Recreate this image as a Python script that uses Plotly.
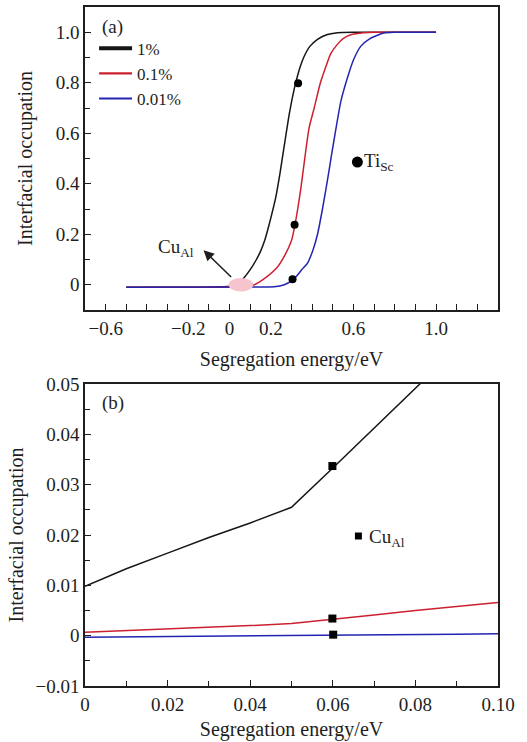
import plotly.graph_objects as go

# ---------------- Panel (a) data ----------------
black_a_x = [-0.5, -0.2, 0.0, 0.04, 0.07, 0.10, 0.13, 0.151, 0.17, 0.184, 0.20, 0.224, 0.245, 0.264,
             0.29, 0.313, 0.33, 0.345, 0.361, 0.39, 0.426, 0.47, 0.522, 0.60, 1.0]
black_a_y = [-0.01, -0.01, -0.006, 0.005, 0.028, 0.06, 0.10, 0.134, 0.175, 0.215, 0.265, 0.347, 0.445, 0.546,
             0.68, 0.775, 0.83, 0.87, 0.904, 0.945, 0.972, 0.99, 0.998, 1.0, 1.0]

red_a_x = [-0.5, 0.0, 0.08, 0.12, 0.17, 0.23, 0.27, 0.30, 0.315, 0.33, 0.345, 0.361, 0.385, 0.41,
           0.44, 0.465, 0.49, 0.52, 0.55, 0.587, 0.65, 0.70, 1.0]
red_a_y = [-0.01, -0.009, -0.006, 0.0, 0.025, 0.068, 0.12, 0.175, 0.23, 0.30, 0.38, 0.48, 0.62, 0.70,
           0.80, 0.86, 0.915, 0.95, 0.975, 0.99, 0.998, 1.0, 1.0]

blue_a_x = [-0.5, 0.10, 0.216, 0.265, 0.30, 0.325, 0.35, 0.377, 0.405, 0.426, 0.45, 0.474, 0.495,
            0.514, 0.54, 0.571, 0.60, 0.635, 0.68, 0.748, 0.80, 1.0]
blue_a_y = [-0.01, -0.009, -0.008, 0.0, 0.015, 0.035, 0.06, 0.085, 0.14, 0.20, 0.30, 0.413, 0.52,
            0.612, 0.73, 0.82, 0.89, 0.944, 0.975, 0.997, 1.0, 1.0]

ti_x = [0.332, 0.315, 0.305]
ti_y = [0.798, 0.238, 0.022]
ti_legend_x = [0.619]
ti_legend_y = [0.486]

# ---------------- Panel (b) data ----------------
b_x = [0.0, 0.01, 0.02, 0.03, 0.04, 0.05, 0.06, 0.07, 0.08, 0.09, 0.10]
black_b_y = [0.0098, 0.0133, 0.0164, 0.0195, 0.0224, 0.0255, 0.0333, 0.0411, 0.049, 0.057, 0.065]
red_b_y = [0.0007, 0.0010, 0.0013, 0.0016, 0.0020, 0.0024, 0.0032, 0.0041, 0.0050, 0.0058, 0.0066]
blue_b_y = [-0.0003, -0.00025, -0.0002, -0.00015, -0.0001, -0.00005, 0.0, 0.0001, 0.0002, 0.0003, 0.0004]

cu_x = [0.0599, 0.0599, 0.0601]
cu_y = [0.0337, 0.0034, 0.0002]
cu_legend_x = [0.0662]
cu_legend_y = [0.0198]

series_names = ["1%", "0.1%", "0.01%"]
colors = ["#161616", "#cc2030", "#2424b0"]

xa_tickvals = [-0.6, -0.2, 0.0, 0.2, 0.6, 1.0]
xa_ticktext = ["\u22120.6", "\u22120.2", "0", "0.2", "0.6", "1.0"]
ya_tickvals = [0.0, 0.2, 0.4, 0.6, 0.8, 1.0]
ya_ticktext = ["0", "0.2", "0.4", "0.6", "0.8", "1.0"]
xb_tickvals = [0.0, 0.02, 0.04, 0.06, 0.08, 0.10]
xb_ticktext = ["0", "0.02", "0.04", "0.06", "0.08", "0.10"]
yb_tickvals = [-0.01, 0.0, 0.01, 0.02, 0.03, 0.04, 0.05]
yb_ticktext = ["\u22120.01", "0", "0.01", "0.02", "0.03", "0.04", "0.05"]

FONT = "Liberation Serif"
INK = "#1e1e1e"

fig = go.Figure()

# panel (a) curves
for xs, ys, c in [(black_a_x, black_a_y, colors[0]), (red_a_x, red_a_y, colors[1]), (blue_a_x, blue_a_y, colors[2])]:
    fig.add_trace(go.Scatter(x=xs, y=ys, mode="lines", line=dict(color=c, width=1.5, shape="spline", smoothing=0.6),
                             showlegend=False, xaxis="x", yaxis="y", hoverinfo="skip"))
# legend entries
for name, c, w in zip(series_names, colors, [4, 2.2, 2.2]):
    fig.add_trace(go.Scatter(x=[None], y=[None], mode="lines", name=name, line=dict(color=c, width=w),
                             xaxis="x", yaxis="y", legendgroup=name))

fig.add_trace(go.Scatter(x=ti_x, y=ti_y, mode="markers", marker=dict(color="black", size=8, symbol="circle"),
                         showlegend=False, xaxis="x", yaxis="y"))
fig.add_trace(go.Scatter(x=ti_legend_x, y=ti_legend_y, mode="markers", marker=dict(color="black", size=11, symbol="circle"),
                         showlegend=False, xaxis="x", yaxis="y"))

# panel (b) curves
for ys, c in [(black_b_y, colors[0]), (red_b_y, colors[1]), (blue_b_y, colors[2])]:
    fig.add_trace(go.Scatter(x=b_x, y=ys, mode="lines", line=dict(color=c, width=1.5),
                             showlegend=False, xaxis="x2", yaxis="y2", hoverinfo="skip"))
fig.add_trace(go.Scatter(x=cu_x, y=cu_y, mode="markers", marker=dict(color="black", size=8, symbol="square"),
                         showlegend=False, xaxis="x2", yaxis="y2"))
fig.add_trace(go.Scatter(x=cu_legend_x, y=cu_legend_y, mode="markers", marker=dict(color="black", size=7, symbol="square"),
                         showlegend=False, xaxis="x2", yaxis="y2"))

axis_common = dict(showline=True, mirror=True, linecolor=INK, linewidth=1.6, ticks="inside", ticklen=6,
                   tickwidth=1.3, tickcolor=INK, showgrid=False, zeroline=False, automargin=False,
                   tickfont=dict(family=FONT, size=19, color=INK), tickmode="array")

fig.update_layout(
    width=527, height=742,
    margin=dict(l=85, r=29, t=7, b=56, autoexpand=False),
    paper_bgcolor="white", plot_bgcolor="white",
    font=dict(family=FONT, color=INK),
    xaxis=dict(axis_common, domain=[0, 1], anchor="y", range=[-0.7, 1.3],
               tickvals=xa_tickvals, ticktext=xa_ticktext,
               minor=dict(dtick=0.1, tick0=0, ticks="inside", ticklen=6, tickwidth=1.3, tickcolor=INK),
               title=dict(text="Segregation energy/eV", font=dict(family=FONT, size=20, color=INK), standoff=14)),
    yaxis=dict(axis_common, domain=[0.55375, 1], anchor="x", range=[-0.1, 1.1],
               tickvals=ya_tickvals, ticktext=ya_ticktext,
               minor=dict(dtick=0.1, tick0=0, ticks="inside", ticklen=5, tickwidth=1.2, tickcolor=INK),
               title=dict(text="Interfacial occupation", font=dict(family=FONT, size=20, color=INK), standoff=18)),
    xaxis2=dict(axis_common, domain=[0, 1], anchor="y2", range=[0, 0.1],
                tickvals=xb_tickvals, ticktext=xb_ticktext,
                minor=dict(dtick=0.01, tick0=0, ticks="inside", ticklen=5, tickwidth=1.2, tickcolor=INK),
                title=dict(text="Segregation energy/eV", font=dict(family=FONT, size=20, color=INK), standoff=8)),
    yaxis2=dict(axis_common, domain=[0, 0.44477], anchor="x2", range=[-0.01, 0.05],
                tickvals=yb_tickvals, ticktext=yb_ticktext,
                minor=dict(dtick=0.005, tick0=0, ticks="inside", ticklen=5, tickwidth=1.2, tickcolor=INK),
                title=dict(text="Interfacial occupation", font=dict(family=FONT, size=20, color=INK), standoff=6)),
    legend=dict(x=0.022, y=0.965, xanchor="left", yanchor="top", bgcolor="rgba(0,0,0,0)",
                font=dict(family=FONT, size=17, color=INK), traceorder="normal", itemwidth=33),
    showlegend=True,
)

# pink highlight ellipse and arrow (panel a)
fig.add_shape(type="circle", xref="x", yref="y", x0=-0.005, x1=0.115, y0=-0.027, y1=0.027,
              fillcolor="#f5c4cc", line=dict(width=0), layer="above")
fig.add_annotation(x=-0.126, y=0.137, ax=0.015, ay=0.025, xref="x", yref="y", axref="x", ayref="y",
                   text="", showarrow=True, arrowhead=2, arrowsize=1.4, arrowwidth=1.5, arrowcolor=INK)
fig.add_annotation(x=-0.355, y=0.146, xref="x", yref="y", xanchor="left", yanchor="middle",
                   text="Cu<sub>Al</sub>", showarrow=False, font=dict(family=FONT, size=19, color=INK))
fig.add_annotation(x=0.64, y=0.486, xref="x", yref="y", xanchor="left", yanchor="middle",
                   text="Ti<sub>Sc</sub>", showarrow=False, font=dict(family=FONT, size=19, color=INK))
fig.add_annotation(x=0.036, y=0.935, xref="x domain", yref="y domain", xanchor="left", yanchor="middle",
                   text="(a)", showarrow=False, font=dict(family=FONT, size=19, color=INK))

# panel b annotations
fig.add_annotation(x=0.0682, y=0.0194, xref="x2", yref="y2", xanchor="left", yanchor="middle",
                   text="Cu<sub>Al</sub>", showarrow=False, font=dict(family=FONT, size=19, color=INK))
fig.add_annotation(x=0.036, y=0.937, xref="x2 domain", yref="y2 domain", xanchor="left", yanchor="middle",
                   text="(b)", showarrow=False, font=dict(family=FONT, size=19, color=INK))

fig.write_html("out.html", config={"displayModeBar": False},
               post_script="document.body.style.margin='0px';")
